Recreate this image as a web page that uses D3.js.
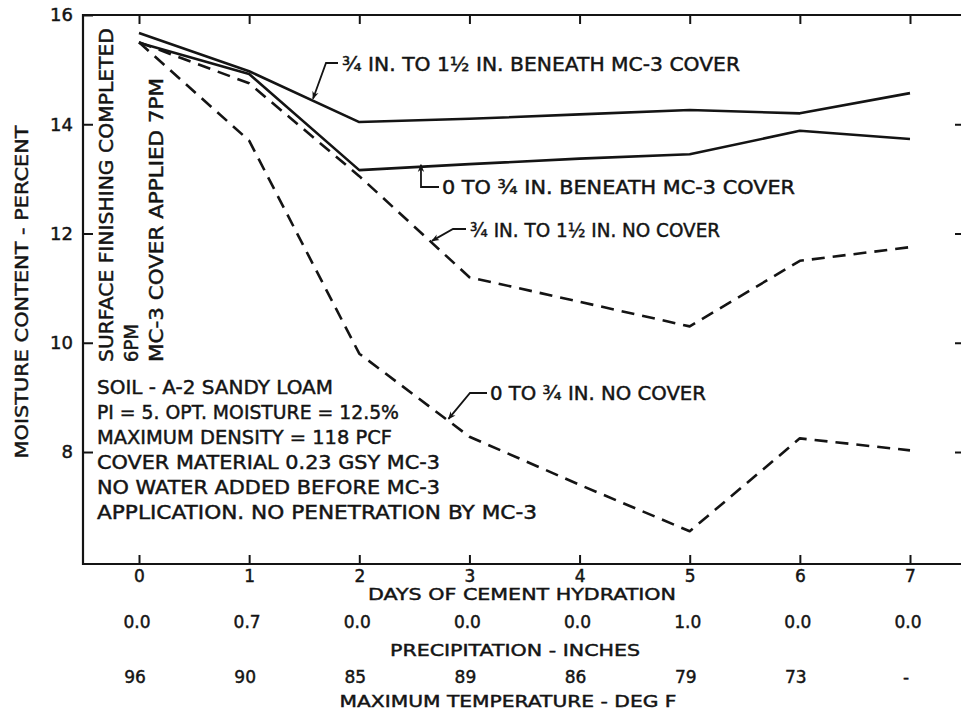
<!DOCTYPE html>
<html>
<head>
<meta charset="utf-8">
<script src="https://cdn.jsdelivr.net/npm/d3@7"></script>
<style>
  html, body { margin: 0; padding: 0; background: #fff; }
  svg { display: block; }
  text { font-family: "DejaVu Sans", Verdana, sans-serif; fill: #141414; stroke: #141414; stroke-width: 0.45px; }
</style>
</head>
<body>
<svg id="chart" width="961" height="711"></svg>
<script>
// Days of cement hydration
const days = [0, 1, 2, 3, 4, 5, 6, 7];

// Moisture content (percent) by depth and curing condition
const coverDeep      = [15.67, 14.97, 14.04, 14.10, 14.18, 14.26, 14.20, 14.57]; // 3/4 to 1 1/2 in. beneath MC-3 cover
const coverShallow   = [15.49, 14.92, 13.16, 13.27, 13.37, 13.45, 13.88, 13.73]; // 0 to 3/4 in. beneath MC-3 cover
const noCoverDeep    = [15.50, 14.75, 13.05, 11.20, 10.75, 10.30, 11.50, 11.75]; // 3/4 to 1 1/2 in. no cover
const noCoverShallow = [15.50, 13.70,  9.80,  8.28,  7.40,  6.55,  8.25,  8.03]; // 0 to 3/4 in. no cover

// Axis ticks
const yTickValues = [16, 14, 12, 10, 8];
const yRightTicks = [14, 12, 10, 8];

// Weather rows under the day axis
const precipitation = ["0.0", "0.7", "0.0", "0.0", "0.0", "1.0", "0.0", "0.0"];
const maxTemperature = ["96", "90", "85", "89", "86", "79", "73", "-"];

// Soil and test notes
const notes = [
  "SOIL - A-2 SANDY LOAM",
  "PI = 5. OPT. MOISTURE = 12.5%",
  "MAXIMUM DENSITY = 118 PCF",
  "COVER MATERIAL 0.23 GSY MC-3",
  "NO WATER ADDED BEFORE MC-3",
  "APPLICATION.  NO PENETRATION BY MC-3"
];

const svg = d3.select("#chart");
const ink = "#141414";

const plotLeft = 83, plotRight = 962, plotTop = 15, plotBottom = 564;
const x = d3.scaleLinear().domain([0, 7]).range([139, 910]);
const y = d3.scaleLinear().domain([5.95, 16]).range([plotBottom, plotTop]);

// Frame
svg.append("path")
  .attr("d", `M${plotRight},${plotTop} H${plotLeft} V${plotBottom} H${plotRight}`)
  .attr("fill", "none")
  .attr("stroke", ink)
  .attr("stroke-width", 2.2);

// Axes with inward ticks
const axisStyle = g => {
  g.select(".domain").remove();
  g.selectAll(".tick line").attr("stroke", ink).attr("stroke-width", 2);
  g.selectAll(".tick text").attr("font-family", "DejaVu Sans").attr("fill", ink);
};

svg.append("g")
  .attr("transform", `translate(${plotLeft},0)`)
  .call(d3.axisLeft(y).tickValues(yTickValues).tickSizeInner(-10).tickSizeOuter(0).tickPadding(10).tickFormat(d3.format("d")))
  .call(axisStyle)
  .call(g => g.selectAll(".tick text").attr("font-size", 18));

svg.append("g")
  .attr("transform", `translate(0,${plotBottom})`)
  .call(d3.axisBottom(x).tickValues(days).tickSizeInner(-9).tickSizeOuter(0).tickPadding(6).tickFormat(d3.format("d")))
  .call(axisStyle)
  .call(g => g.selectAll(".tick text").attr("font-size", 17));

svg.append("g")
  .attr("transform", `translate(0,${plotTop})`)
  .call(d3.axisTop(x).tickValues(days).tickSizeInner(-9).tickSizeOuter(0).tickFormat(""))
  .call(axisStyle);

svg.append("g")
  .attr("transform", `translate(${plotRight},0)`)
  .call(d3.axisRight(y).tickValues(yRightTicks).tickSizeInner(-7).tickSizeOuter(0).tickFormat(""))
  .call(axisStyle);

// Curves
const series = [
  { values: coverDeep,      dash: null },
  { values: coverShallow,   dash: null },
  { values: noCoverDeep,    dash: "13,8" },
  { values: noCoverShallow, dash: "13,8" }
];

const line = d3.line().x((d, i) => x(days[i])).y(d => y(d));

svg.append("g").selectAll("path")
  .data(series)
  .join("path")
  .attr("d", s => line(s.values))
  .attr("fill", "none")
  .attr("stroke", ink)
  .attr("stroke-width", 2.6)
  .attr("stroke-linejoin", "round")
  .attr("stroke-dasharray", s => s.dash);

// Value on a curve at a fractional day
const valueAt = (values, t) => d3.scaleLinear().domain(days).range(values)(t);

// Arrowhead marker for the callout leaders
svg.append("defs").append("marker")
  .attr("id", "tip")
  .attr("viewBox", "0 0 10 10")
  .attr("refX", 9).attr("refY", 5)
  .attr("markerWidth", 8).attr("markerHeight", 8)
  .attr("markerUnits", "userSpaceOnUse")
  .attr("orient", "auto")
  .append("path")
  .attr("d", "M0,1 L10,5 L0,9 L3,5 Z")
  .attr("fill", ink);

// Curve callouts: text position, leader bend, and where the leader meets its curve
const callouts = [
  { text: "¾ IN. TO 1½ IN. BENEATH  MC-3 COVER", values: coverDeep, day: 1.58, tx: 342, ty: 64, len: 398, bend: [[338, 63], [326, 63]] },
  { text: "0 TO ¾ IN. BENEATH MC-3 COVER", values: coverShallow, day: 2.56, tx: 442, ty: 187, len: 353, bend: [[439, 187], [421, 187]] },
  { text: "¾ IN. TO 1½ IN.  NO COVER", values: noCoverDeep, day: 2.66, tx: 470, ty: 230, len: 250, bend: [[466, 229], [453, 229]] },
  { text: "0 TO ¾ IN.  NO COVER", values: noCoverShallow, day: 2.81, tx: 490, ty: 393, len: 216, bend: [[487, 393], [470, 393]] }
];

const callG = svg.append("g");
callouts.forEach(c => {
  const tip = [x(c.day), y(valueAt(c.values, c.day)) - 2];
  callG.append("path")
    .attr("d", d3.line()(c.bend.concat([tip])))
    .attr("fill", "none")
    .attr("stroke", ink)
    .attr("stroke-width", 1.8)
    .attr("marker-end", "url(#tip)");
  callG.append("text")
    .attr("x", c.tx).attr("y", c.ty).attr("dy", "0.36em")
    .attr("font-size", 19)
    .attr("textLength", c.len)
    .attr("lengthAdjust", "spacingAndGlyphs")
    .text(c.text);
});

// Event notes written up the plot
const eventNotes = [
  { text: "SURFACE FINISHING COMPLETED", cx: 106, len: 334 },
  { text: "6PM", cx: 131, len: 38 },
  { text: "MC-3 COVER APPLIED 7PM", cx: 156, len: 284 }
];
svg.append("g").selectAll("text")
  .data(eventNotes)
  .join("text")
  .attr("transform", d => `translate(${d.cx},362) rotate(-90)`)
  .attr("dy", "0.36em")
  .attr("font-size", 19)
  .attr("textLength", d => d.len)
  .attr("lengthAdjust", "spacingAndGlyphs")
  .text(d => d.text);

// Soil notes block
const noteWidths = [236, 302, 295, 343, 343, 440];
svg.append("g").selectAll("text")
  .data(notes)
  .join("text")
  .attr("x", 97)
  .attr("y", (d, i) => 387 + i * 25)
  .attr("dy", "0.36em")
  .attr("font-size", 19)
  .attr("textLength", (d, i) => noteWidths[i])
  .attr("lengthAdjust", "spacingAndGlyphs")
  .text(d => d);

// Y axis title
svg.append("text")
  .attr("transform", "translate(22,292) rotate(-90)")
  .attr("text-anchor", "middle")
  .attr("dy", "0.36em")
  .attr("font-size", 18)
  .attr("textLength", 333)
  .attr("lengthAdjust", "spacingAndGlyphs")
  .text("MOISTURE CONTENT - PERCENT");

// Rows and titles under the day axis
const rows = svg.append("g").attr("font-size", 17);
rows.append("text")
  .attr("x", 522).attr("y", 594).attr("dy", "0.36em")
  .attr("text-anchor", "middle").attr("font-size", 16)
  .attr("textLength", 308).attr("lengthAdjust", "spacingAndGlyphs")
  .text("DAYS OF CEMENT HYDRATION");

rows.selectAll(".precip")
  .data(precipitation)
  .join("text")
  .attr("class", "precip")
  .attr("x", (d, i) => x(days[i]) - 2)
  .attr("y", 622).attr("dy", "0.36em")
  .attr("text-anchor", "middle")
  .text(d => d);

rows.append("text")
  .attr("x", 515).attr("y", 650).attr("dy", "0.36em")
  .attr("text-anchor", "middle").attr("font-size", 16)
  .attr("textLength", 250).attr("lengthAdjust", "spacingAndGlyphs")
  .text("PRECIPITATION - INCHES");

rows.selectAll(".temp")
  .data(maxTemperature)
  .join("text")
  .attr("class", "temp")
  .attr("x", (d, i) => x(days[i]) - 4)
  .attr("y", 677).attr("dy", "0.36em")
  .attr("text-anchor", "middle")
  .text(d => d);

rows.append("text")
  .attr("x", 508).attr("y", 701).attr("dy", "0.36em")
  .attr("text-anchor", "middle").attr("font-size", 16)
  .attr("textLength", 337).attr("lengthAdjust", "spacingAndGlyphs")
  .text("MAXIMUM TEMPERATURE - DEG F");
</script>
</body>
</html>
